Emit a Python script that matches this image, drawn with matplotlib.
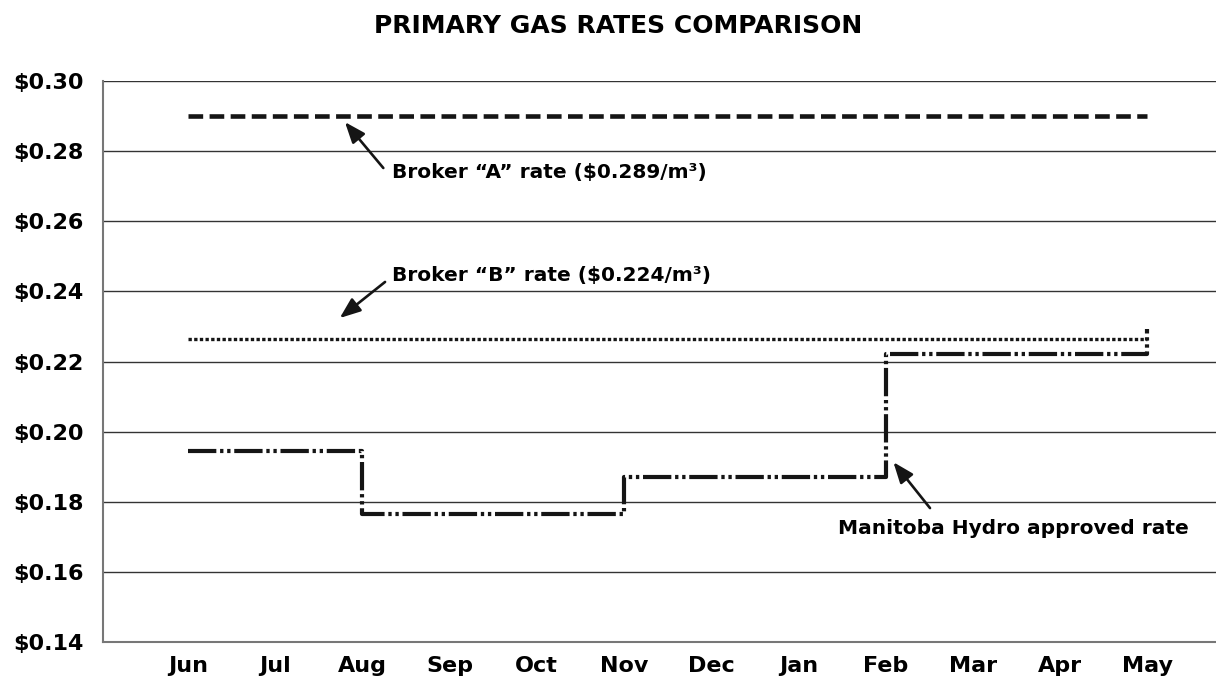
import matplotlib
matplotlib.use("Agg")
import matplotlib.pyplot as plt

plt.rcParams['font.family'] = ['DejaVu Sans']
plt.rcParams['font.weight'] = 'bold'

months = ["Jun", "Jul", "Aug", "Sep", "Oct", "Nov", "Dec", "Jan", "Feb", "Mar", "Apr", "May"]
broker_a = [0.290] * 12
broker_b = [0.2265] * 12
# Manitoba Hydro approved rate changes at the start of these months
hydro_x = [0, 2, 5, 8, 11, 11]
hydro_y = [0.1945, 0.1765, 0.1872, 0.2222, 0.2222, 0.2292]
yticks = [0.14, 0.16, 0.18, 0.20, 0.22, 0.24, 0.26, 0.28, 0.30]

fig = plt.figure(figsize=(12.16, 6.98), dpi=100)
ax = fig.add_axes([0.0847, 0.0802, 0.9153, 0.8037])

x = list(range(len(months)))
ax.plot(x, broker_a, color="#151515", lw=3.3, ls=(0, (3.2, 1.4)), dash_capstyle="butt")
ax.plot(x, broker_b, color="#151515", lw=2.4, ls=(0, (1.0, 0.7)), dash_capstyle="butt")
ax.plot(hydro_x, hydro_y, color="#151515", lw=3.0, drawstyle="steps-post",
        ls=(0, (6.8, 0.9, 0.8, 0.9, 0.8, 0.9)), dash_capstyle="butt")

ax.set_xlim(-0.975, 11.79)
ax.set_ylim(0.14, 0.30)
ax.set_yticks(yticks)
ax.set_yticklabels([f"${v:.2f}" for v in yticks], fontsize=16, fontweight="bold")
ax.set_xticks(x)
ax.set_xticklabels(months, fontsize=16, fontweight="bold")
ax.tick_params(length=0)
ax.tick_params(axis="y", pad=14)
ax.tick_params(axis="x", pad=10)
ax.grid(axis="y", color="#333333", lw=1.0)
ax.set_axisbelow(True)
for side in ["top", "right"]:
    ax.spines[side].set_visible(False)
for side in ["left", "bottom"]:
    ax.spines[side].set_color("#777777")
    ax.spines[side].set_linewidth(1.5)

arrow = dict(arrowstyle="-|>,head_length=0.9,head_width=0.35", color="#151515", lw=1.9,
             mutation_scale=14, shrinkA=0, shrinkB=0)
ax.annotate("", xy=(1.80, 0.2883), xytext=(2.24, 0.2752), arrowprops=arrow)
ax.text(2.34, 0.2738, "Broker \u201cA\u201d rate ($0.289/m\u00b3)", fontsize=14.5,
        fontweight="bold", va="center", ha="left")
ax.annotate("", xy=(1.74, 0.2324), xytext=(2.26, 0.2427), arrowprops=arrow)
ax.text(2.34, 0.2444, "Broker \u201cB\u201d rate ($0.224/m\u00b3)", fontsize=14.5,
        fontweight="bold", va="center", ha="left")
ax.annotate("", xy=(8.09, 0.1913), xytext=(8.51, 0.1782), arrowprops=arrow)
ax.text(7.46, 0.1725, "Manitoba Hydro approved rate", fontsize=14.5,
        fontweight="bold", va="center", ha="left")

fig.text(0.508, 0.963, "PRIMARY GAS RATES COMPARISON", ha="center", va="center",
         fontsize=18, fontweight="bold")

fig.savefig("out.png", dpi=100)
